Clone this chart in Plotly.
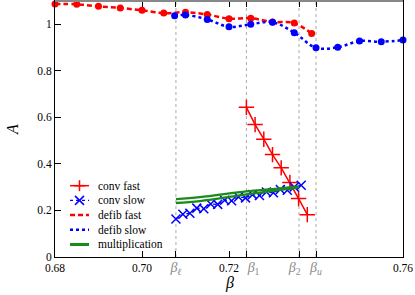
import plotly.graph_objects as go

# ---------------- data ----------------
defib_fast_x = [0.680, 0.685, 0.690, 0.695, 0.700, 0.705, 0.710, 0.715, 0.720, 0.725, 0.730, 0.735, 0.739]
defib_fast_y = [1.087, 1.086, 1.077, 1.070, 1.060, 1.048, 1.052, 1.042, 1.024, 1.026, 1.010, 1.005, 0.960]

defib_slow_x = [0.7075, 0.710, 0.715, 0.720, 0.725, 0.730, 0.735, 0.740, 0.745, 0.750, 0.755, 0.760]
defib_slow_y = [1.037, 1.040, 1.021, 0.989, 1.000, 1.009, 0.964, 0.899, 0.901, 0.928, 0.925, 0.932]

conv_fast_x = [0.724, 0.726, 0.728, 0.730, 0.732, 0.734, 0.736, 0.738]
conv_fast_y = [0.643, 0.569, 0.506, 0.440, 0.383, 0.320, 0.251, 0.182]

conv_slow_x = [0.7078, 0.7094, 0.7110, 0.7126, 0.7142, 0.7158, 0.7174, 0.7190, 0.7206, 0.7222,
               0.7238, 0.7254, 0.7270, 0.7286, 0.7302, 0.7318, 0.7334, 0.7350, 0.7366]
conv_slow_y = [0.163, 0.184, 0.188, 0.210, 0.207, 0.228, 0.226, 0.244, 0.242, 0.258,
               0.254, 0.268, 0.264, 0.279, 0.276, 0.290, 0.287, 0.301, 0.308]

mult1_x = [0.7078, 0.7133, 0.7240, 0.7300, 0.7360]
mult1_y = [0.249, 0.257, 0.282, 0.292, 0.303]
mult2_x = [0.7078, 0.7133, 0.7240, 0.7300, 0.7360]
mult2_y = [0.232, 0.240, 0.269, 0.284, 0.299]

beta_vals = [0.7078, 0.7240, 0.7361, 0.7400]
beta_names = ["ℓ", "1", "2", "u"]

x_num_ticks = [0.68, 0.70, 0.72, 0.76]
x_num_text = ["0.68", "0.70", "0.72", "0.76"]
y_ticks = [0, 0.2, 0.4, 0.6, 0.8, 1.0]
y_text = ["0", "0.2", "0.4", "0.6", "0.8", "1"]

legend_names = ["conv fast", "conv slow", "defib fast", "defib slow", "multiplication"]

RED = "#ff0000"
BLUE = "#0000ff"
GREEN = "#1a8a1a"
GREY = "#8c8c8c"
FONT = "Liberation Serif"

W, H = 415, 295
ML, MR, MT, MB = 55, 12, 1, 38
PW, PH = W - ML - MR, H - MT - MB


def px(xp):
    return (xp - ML) / PW


def py(yp):
    return (H - MB - yp) / PH


fig = go.Figure()

fig.add_trace(go.Scatter(
    x=conv_fast_x, y=conv_fast_y, name="conv fast", mode="lines+markers",
    line=dict(color=RED, width=1.5),
    marker=dict(symbol="cross-thin", size=11, line=dict(color=RED, width=1.5), color=RED),
))
fig.add_trace(go.Scatter(
    x=conv_slow_x, y=conv_slow_y, name="conv slow", mode="lines+markers",
    line=dict(color=BLUE, width=1.2, dash="dot"),
    marker=dict(symbol="x-thin", size=9, line=dict(color=BLUE, width=1.5), color=BLUE),
))
fig.add_trace(go.Scatter(
    x=defib_fast_x, y=defib_fast_y, name="defib fast", mode="lines+markers",
    line=dict(color=RED, width=2.5, dash="5px,3px", shape="spline"),
    marker=dict(symbol="circle", size=7, color=RED),
    cliponaxis=False,
))
fig.add_trace(go.Scatter(
    x=defib_slow_x, y=defib_slow_y, name="defib slow", mode="lines+markers",
    line=dict(color=BLUE, width=2.5, dash="dot", shape="spline"),
    marker=dict(symbol="circle", size=7, color=BLUE),
    cliponaxis=False,
))
fig.add_trace(go.Scatter(
    x=mult1_x, y=mult1_y, name="multiplication", mode="lines",
    line=dict(color=GREEN, width=2.3, shape="spline"),
))
fig.add_trace(go.Scatter(
    x=mult2_x, y=mult2_y, name="multiplication", mode="lines", showlegend=False,
    line=dict(color=GREEN, width=2.3, shape="spline"),
))

for b in beta_vals:
    fig.add_vline(x=b, line=dict(color="#aaaaaa", width=1, dash="dot"), layer="below")

# tick labels (non-breaking spaces nudge β1 right and β2 left, as in the reference)
NB = "\u00a0"
pads = {"1": (NB * 5, ""), "2": ("", NB * 3)}
beta_text = []
for n in beta_names:
    sub = n if n.isdigit() else f"<i>{n}</i>"
    pre, post = pads.get(n, ("", ""))
    beta_text.append(
        f"{pre}<span style='color:{GREY};font-size:14px'><i>β</i><sub>{sub}</sub></span>{post}")
tickvals = x_num_ticks + beta_vals
ticktext = x_num_text + beta_text

fig.update_layout(
    width=W, height=H,
    margin=dict(l=ML, r=MR, t=MT, b=MB, autoexpand=False),
    paper_bgcolor="white", plot_bgcolor="white",
    font=dict(family=FONT, size=11, color="black"),
    showlegend=False,
    xaxis=dict(
        range=[0.68, 0.76], tickvals=tickvals, ticktext=ticktext, tickangle=0,
        ticks="inside", ticklen=6, tickcolor="black", tickwidth=1,
        showline=True, linecolor="black", linewidth=1, mirror="allticks",
        showgrid=False, zeroline=False, automargin=False,
        tickfont=dict(family=FONT, size=11.5),
    ),
    yaxis=dict(
        range=[0, 1.1], tickvals=y_ticks, ticktext=y_text,
        ticks="inside", ticklen=6, tickcolor="black", tickwidth=1,
        showline=True, linecolor="black", linewidth=1, mirror=True,
        showgrid=False, zeroline=False, automargin=False,
        tickfont=dict(family=FONT, size=11.5),
    ),
)

# axis titles
fig.add_annotation(text="<i>β</i>", xref="paper", yref="paper", x=px(229), y=py(283),
                   showarrow=False, font=dict(family=FONT, size=16), xanchor="center", yanchor="middle")
fig.add_annotation(text="<i>A</i>", xref="paper", yref="paper", x=px(12), y=py(130),
                   showarrow=False, font=dict(family=FONT, size=16), textangle=-90,
                   xanchor="center", yanchor="middle")

# grey top border as in the reference
fig.add_shape(type="line", xref="paper", yref="paper", x0=0, x1=1, y0=1, y1=1,
              line=dict(color="#888888", width=2))

# ---------------- hand-drawn legend (gnuplot style key) ----------------
row_y = [185.7, 200.4, 215.1, 229.8, 244.5]
lx0, lx1, ltx = 70, 89, 96
styles = [
    dict(color=RED, width=1.5),
    dict(color=BLUE, width=1.2, dash="dot"),
    dict(color=RED, width=2.5, dash="5px,3px"),
    dict(color=BLUE, width=2.5, dash="dot"),
    dict(color=GREEN, width=3),
]
for name, yy, st in zip(legend_names, row_y, styles):
    fig.add_shape(type="line", xref="paper", yref="paper",
                  x0=px(lx0), x1=px(lx1), y0=py(yy), y1=py(yy), line=st)
    fig.add_annotation(text=name, xref="paper", yref="paper", x=px(ltx), y=py(yy),
                       showarrow=False, xanchor="left", yanchor="middle",
                       font=dict(family=FONT, size=11.5))
cx = (lx0 + lx1) / 2
# plus marker for conv fast
fig.add_shape(type="line", xref="paper", yref="paper", x0=px(cx - 5.5), x1=px(cx + 5.5),
              y0=py(row_y[0]), y1=py(row_y[0]), line=dict(color=RED, width=1.5))
fig.add_shape(type="line", xref="paper", yref="paper", x0=px(cx), x1=px(cx),
              y0=py(row_y[0] - 5.5), y1=py(row_y[0] + 5.5), line=dict(color=RED, width=1.5))
# x marker for conv slow
fig.add_shape(type="line", xref="paper", yref="paper", x0=px(cx - 4.5), x1=px(cx + 4.5),
              y0=py(row_y[1] - 4.5), y1=py(row_y[1] + 4.5), line=dict(color=BLUE, width=1.5))
fig.add_shape(type="line", xref="paper", yref="paper", x0=px(cx - 4.5), x1=px(cx + 4.5),
              y0=py(row_y[1] + 4.5), y1=py(row_y[1] - 4.5), line=dict(color=BLUE, width=1.5))

# remove the browser's default 8px body margin so the figure sits at the page corner
fig.write_html(
    "out.html",
    config={"displayModeBar": False, "staticPlot": True},
    post_script="document.body.style.margin='0';document.body.style.overflow='hidden';",
)
